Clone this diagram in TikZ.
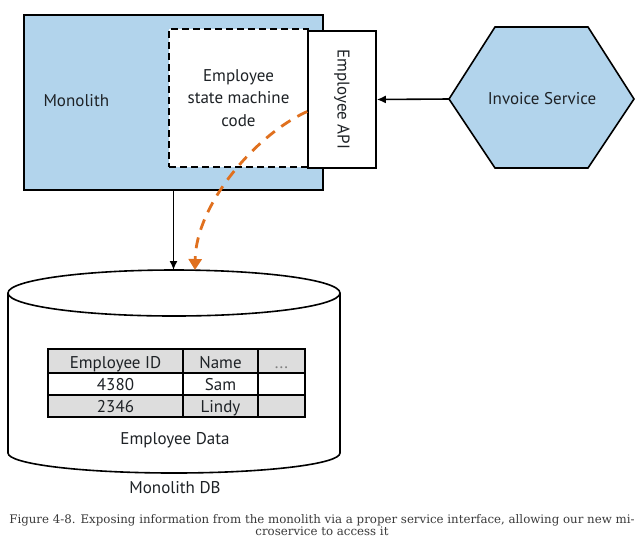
\documentclass[tikz,border=0pt]{standalone}
\usepackage{fontspec}
\setmainfont{PT Sans}
\newfontfamily\captionfont{DejaVu Serif}
\usetikzlibrary{arrows.meta}
\definecolor{monoblue}{HTML}{B2D4EC}
\definecolor{callorange}{HTML}{E0701E}
\definecolor{rowgray}{HTML}{DDDDDD}
\definecolor{captiongray}{HTML}{3A3A3A}
\definecolor{inkgray}{HTML}{1E2226}

\begin{document}
\begin{tikzpicture}[x=1pt, y=-1pt,
  box/.style={draw, line width=1.6pt, inner sep=0pt},
  link/.style={line width=1.6pt, -{Latex[length=9pt,width=8pt]}},
  txt/.style={font=\fontsize{17}{22.5}\selectfont, text=inkgray, align=center},
  cell/.style={font=\fontsize{17}{18}\selectfont, text=inkgray, inner sep=0pt, anchor=base}]
\useasboundingbox (0,0) rectangle (644,547);
\node[box, fill=monoblue, minimum width=299pt, minimum height=175pt] (monolith) at (173.5,102.5) {};
\node[txt, anchor=west] (monolabel) at (40,101) {Monolith};
\node[box, txt, fill=white, dash pattern=on 7pt off 4pt, minimum width=139pt, minimum height=138pt] (statecode) at (238.5,98) {Employee\\state machine\\code};
\node[box, txt, fill=white, minimum width=68pt, minimum height=137pt] (api) at (342,99.5) {\rotatebox{-90}{Employee API}};
\draw[line width=1.6pt, fill=monoblue] (449,99) -- (495,27) -- (588,27) -- (634,99) -- (588,168) -- (495,168) -- cycle;
\node[txt] (invoice) at (542,99) {Invoice Service};
\coordinate (invleft) at (449,99);
\draw[link] (invleft) -- (api.east);
\draw[line width=1.6pt, fill=white] (8,293) -- (8,453) arc[start angle=180, end angle=0, x radius=166, y radius=20] -- (340,293);
\draw[line width=1.6pt, fill=white] (174,293) ellipse [x radius=166, y radius=23];
\coordinate (dbtop) at (174,270);
\draw[link] (monolith.south) -- (monolith.south |- dbtop);
\draw[line width=2.8pt, callorange, dash pattern=on 11pt off 8pt, -{Triangle[length=11pt,width=13pt]}] ([yshift=-12pt]api.west) .. controls (255,135) and (196,205) .. ([xshift=21pt]dbtop);
\fill[rowgray] (48,349) rectangle (305,373);
\fill[rowgray] (48,395) rectangle (305,417);
\draw[line width=1.8pt] (48,349) rectangle (305,417);
\foreach \y in {373,395} \draw[line width=1.8pt] (48,\y) -- (305,\y);
\foreach \x in {183,258} \draw[line width=1.8pt] (\x,349) -- (\x,417);
\node[cell] (idhead) at (115.5,368) {Employee ID};
\node[cell] (namehead) at (220.5,368) {Name};
\node[cell, text=gray] (morehead) at (281.5,368) {...};
\node[cell] (idone) at (115.5,390) {4380};
\node[cell] (nameone) at (220.5,390) {Sam};
\node[cell] (idtwo) at (115.5,412) {2346};
\node[cell] (nametwo) at (220.5,412) {Lindy};
\node[txt] (datalabel) at (175,440) {Employee Data};
\node[txt] (dblabel) at (175,488) {Monolith DB};
\node[font=\captionfont\fontsize{11.8}{12.5}\selectfont, text=captiongray, align=center] (caption) at (322,525) {Figure 4-8. Exposing information from the monolith via a proper service interface, allowing our new mi-\\croservice to access it};
\end{tikzpicture}
\end{document}
